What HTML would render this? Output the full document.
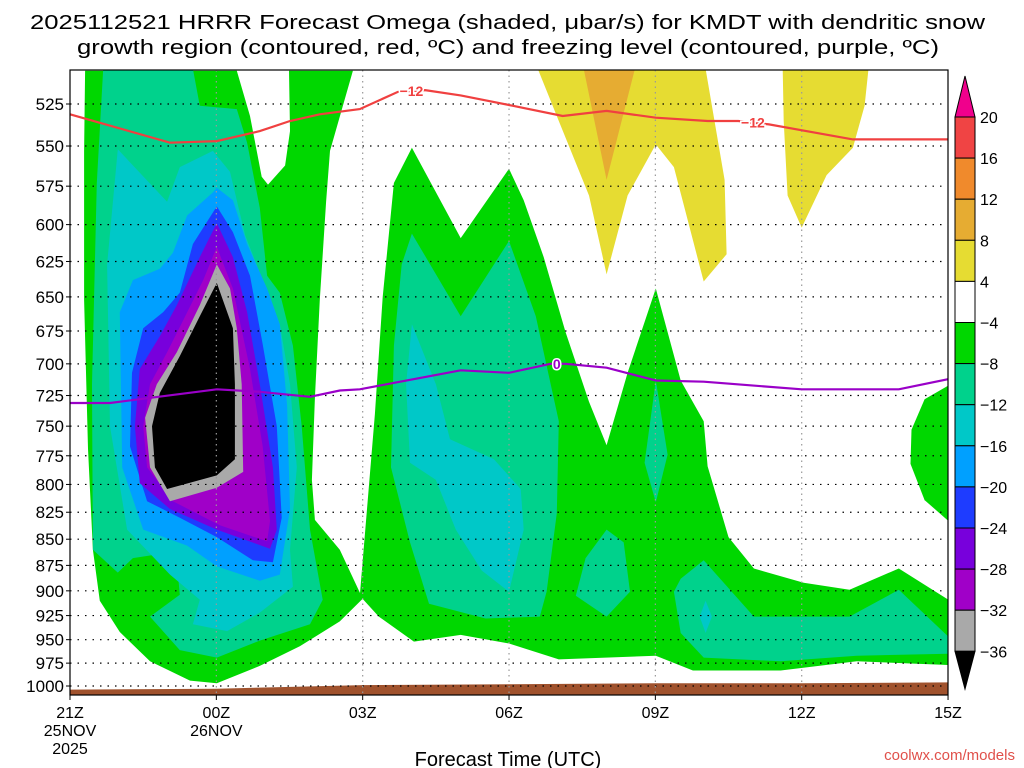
<!DOCTYPE html>
<html><head><meta charset="utf-8">
<style>
html,body{margin:0;padding:0;background:#fff;}
svg{display:block;font-family:"Liberation Sans",sans-serif;}
</style></head>
<body>
<svg id="chart" width="1024" height="768" viewBox="0 0 1024 768" xmlns="http://www.w3.org/2000/svg">
<text x="30" y="29" font-size="20" textLength="955" lengthAdjust="spacingAndGlyphs">2025112521 HRRR Forecast Omega (shaded, μbar/s) for KMDT with dendritic snow</text>
<text x="77" y="54" font-size="20" textLength="862" lengthAdjust="spacingAndGlyphs">growth region (contoured, red, ºC) and freezing level (contoured, purple, ºC)</text>
<g id="fills"></g>
<g id="grid"></g>
<g id="lines"></g>
<rect x="70" y="70" width="878" height="625" fill="none" stroke="#000" stroke-width="1.2"/>
<g id="yaxis"></g>
<g id="xaxis"></g>
<g id="cbar"></g>
<text x="508" y="766" font-size="20" text-anchor="middle">Forecast Time (UTC)</text>
<text x="1015" y="760" font-size="15" text-anchor="end" fill="#e0504a">coolwx.com/models</text>
</svg>
<script>
// axis data
const pressureTicks = [525,550,575,600,625,650,675,700,725,750,775,800,825,850,875,900,925,950,975,1000];
const hourTicks = [0,3,6,9,12,15,18];
const hourLabels = ["21Z","00Z","03Z","06Z","09Z","12Z","15Z"];
const dateLabels = ["25NOV","26NOV","","","","",""];
// colorbar
const cbLevels = ["20","16","12","8","4","−4","−8","−12","−16","−20","−24","−28","−32","−36"];
const cbColors = ["#f04444","#f08a2c","#e6ac32","#e6dc32","#ffffff","#00d700","#00d28c","#00c8c8","#00a0ff","#1e3cff","#7800dc","#a000c8","#a9a9a9"];
// filled contour regions [hour, pressure]
const shadeGreenLeft = [[0.31,506],[3.42,506],[3.69,532],[3.93,569],[4.06,574],[4.41,562],[4.51,541],[4.49,506],[5.80,506],[5.33,553],[5.25,585],[5.12,652],[5.02,727],[4.96,796],[5.02,832],[5.53,860],[6.00,908],[5.53,931],[4.71,957],[3.89,978],[3.01,997],[2.46,994],[1.64,973],[1.02,942],[0.61,910],[0.47,860],[0.37,769],[0.29,652],[0.29,553]];
const shadeGreenMid = [[5.94,905],[6.25,740],[6.41,650],[6.64,573],[7.01,551],[8.01,609],[9.00,564],[9.30,584],[9.71,622],[10.16,676],[10.64,730],[11.00,766],[11.43,707],[12.01,644],[12.52,713],[12.99,746],[13.07,784],[13.50,848],[14.02,878],[15.04,892],[15.98,899],[16.99,878],[18.01,909],[18.01,977],[16.13,973],[14.57,983],[12.77,983],[12.01,967],[10.02,971],[9.00,954],[8.01,945],[7.05,952],[6.33,926]];
const shadeGreenRight = [[18.01,717],[17.52,728],[17.25,753],[17.23,782],[17.52,814],[18.01,833]];
const shadeTealLeft = [[0.68,505],[2.52,505],[2.66,526],[3.42,528],[3.63,548],[3.89,589],[4.04,635],[4.30,647],[4.57,686],[4.75,750],[4.92,841],[5.18,909],[4.92,934],[3.89,951],[3.01,969],[2.25,961],[1.64,926],[2.25,904],[2.19,872],[1.84,864],[1.29,868],[0.98,882],[0.47,860],[0.45,716],[0.55,573]];
const shadeTealMid = [[7.01,606],[8.01,664],[9.00,611],[9.55,664],[10.02,746],[9.98,826],[9.77,901],[9.63,926],[8.52,928],[7.36,913],[6.97,853],[6.58,785],[6.64,686],[6.80,627]];
const shadeTealSmall = [[11.00,841],[11.35,853],[11.48,901],[11.00,926],[10.37,905],[10.57,868]];
const shadeTealSliver = [[12.01,713],[12.25,774],[12.01,816],[11.78,781]];
const shadeTealRight = [[12.99,870],[14.02,926],[15.98,926],[16.99,899],[18.01,947],[18.01,965],[16.13,967],[14.57,973],[12.99,969],[12.52,943],[12.38,901],[12.52,888]];
const shadeCyanLeft = [[0.98,552],[1.99,585],[2.25,563],[2.93,553],[3.28,566],[3.59,607],[3.89,633],[4.30,670],[4.51,716],[4.65,785],[4.51,860],[4.57,896],[3.89,922],[3.22,941],[2.52,934],[2.66,909],[2.05,884],[1.17,841],[0.82,750],[0.76,627]];
const shadeCyanMid = [[7.01,670],[7.50,716],[7.79,761],[8.69,778],[9.24,804],[9.30,841],[9.00,901],[8.44,880],[7.91,841],[7.50,796],[6.97,781],[6.89,716]];
const shadeCyanTiny = [[13.03,910],[13.16,926],[13.03,943],[12.91,926]];
const shadeLightBlue = [[3.01,576],[3.34,584],[3.63,613],[4.04,644],[4.30,670],[4.45,733],[4.51,822],[4.30,884],[3.89,890],[3.01,876],[2.40,856],[1.50,841],[1.07,785],[1.02,661],[1.29,638],[1.84,630],[2.11,619],[2.40,594],[2.93,579]];
const shadeBlue = [[3.01,588],[3.34,605],[3.69,635],[3.95,685],[4.24,750],[4.34,830],[4.16,872],[3.75,870],[3.01,848],[2.25,830],[1.58,815],[1.23,767],[1.27,707],[1.50,673],[1.91,661],[2.25,647],[2.52,613]];
const shadeViolet = [[3.01,599],[3.34,622],[3.63,661],[3.89,716],[4.16,785],[4.24,841],[4.10,859],[3.01,841],[2.05,822],[1.43,799],[1.33,750],[1.43,704],[1.84,679],[2.19,656],[2.66,622]];
const shadePurple = [[3.01,615],[3.34,644],[3.69,704],[3.95,767],[4.10,833],[4.04,852],[3.07,837],[2.11,815],[1.58,785],[1.50,750],[1.64,716],[1.99,691],[2.32,667],[2.73,638]];
const shadeGray = [[3.01,627],[3.28,644],[3.42,673],[3.52,716],[3.55,789],[3.01,803],[2.05,815],[1.64,785],[1.54,743],[1.78,716],[2.19,691],[2.66,656]];
const shadeBlack = [[3.01,640],[3.34,673],[3.38,716],[3.38,778],[3.01,792],[1.99,804],[1.74,785],[1.68,750],[1.84,723],[2.25,694],[2.66,664]];
const shadeYellowA = [[9.59,505],[13.03,505],[13.42,571],[13.46,620],[12.99,639],[12.38,563],[12.01,549],[11.43,581],[11.00,634],[10.64,581],[10.02,535]];
const shadeOrange = [[10.53,505],[11.58,505],[11.00,571]];
const shadeYellowB = [[14.61,505],[16.37,505],[16.29,526],[16.05,551],[15.51,568],[15.00,602],[14.71,581],[14.63,535]];
const groundHours = [0,3,6,9,12,15,18];
const groundPressure = [1004,1003,999,998,997,997,996];
// contour lines
const redHours = [0,2.05,3.01,3.89,4.51,5.12,5.94,6.72,7.28,8.01,9.07,10.1,11.0,12.01,13.07,13.7,14.33,16.05,18.0];
const redPressure = [531,548,547,541,535,531,528,518,517,520,526,532,529,533,535,535,537,546,546];
const purpleHours = [0,0.82,3.01,3.89,4.92,5.53,5.94,8.01,9.0,9.85,10.16,11.0,12.01,12.99,15.0,16.99,18.0];
const purplePressure = [731,731,720,722,726,721,720,705,707,700,700,703,713,714,720,720,712];
const redLabelHours = [7.0,14.0];
const purpleLabelHours = [9.98];

const NS="http://www.w3.org/2000/svg";
const X = h => 70 + h*48.78;
const Y = p => 104 + Math.log(p/525)/Math.log(1000/525)*582;
function mk(tag, parent){const e=document.createElementNS(NS,tag);parent.appendChild(e);return e;}
const fills=document.getElementById('fills');
function poly(arr,color,name){
  const e=mk('polygon',fills);
  
  
  e.setAttribute('points',arr.map(d=>X(d[0]).toFixed(1)+','+Y(d[1]).toFixed(1)).join(' '));
  e.setAttribute('fill',color);
}
const clip=mk('clipPath',document.getElementById('chart'));clip.id='pc';
const cr=mk('rect',clip);cr.setAttribute('x',70);cr.setAttribute('y',70);cr.setAttribute('width',878);cr.setAttribute('height',625);
fills.setAttribute('clip-path','url(#pc)');
poly(shadeGreenLeft,"#00d700","shade-green-left");
poly(shadeGreenMid,"#00d700","shade-green-middle");
poly(shadeGreenRight,"#00d700","shade-green-right");
poly(shadeTealLeft,"#00d28c","shade-teal-left");
poly(shadeTealMid,"#00d28c","shade-teal-middle");
poly(shadeTealSmall,"#00d28c","shade-teal-small");
poly(shadeTealSliver,"#00d28c","shade-teal-sliver");
poly(shadeTealRight,"#00d28c","shade-teal-right");
poly(shadeCyanLeft,"#00c8c8","shade-cyan-left");
poly(shadeCyanMid,"#00c8c8","shade-cyan-middle");
poly(shadeCyanTiny,"#00c8c8","shade-cyan-tiny");
poly(shadeLightBlue,"#00a0ff","shade-lightblue");
poly(shadeBlue,"#1e3cff","shade-blue");
poly(shadeViolet,"#7800dc","shade-violet");
poly(shadePurple,"#a000c8","shade-purple");
poly(shadeGray,"#a9a9a9","shade-gray");
poly(shadeBlack,"#000000","shade-black");
poly(shadeYellowA,"#e6dc32","shade-yellow-a");
poly(shadeOrange,"#e6ac32","shade-orange");
poly(shadeYellowB,"#e6dc32","shade-yellow-b");
// ground
{
  const pts=groundHours.map((h,i)=>X(h)+','+Y(groundPressure[i]));
  pts.push(X(18)+',695',X(0)+',695');
  const g=mk('polygon',fills);
  
  
  g.setAttribute('points',pts.join(' '));g.setAttribute('fill','#a0522d');
}
// grid
const grid=document.getElementById('grid');
pressureTicks.forEach(p=>{
  const l=mk('line',grid);
  
  
  l.setAttribute('x1',70);l.setAttribute('x2',948);l.setAttribute('y1',Y(p));l.setAttribute('y2',Y(p));
  l.setAttribute('stroke','#000');l.setAttribute('stroke-dasharray','1.5 6');l.setAttribute('stroke-width','1.2');
});
hourTicks.slice(1,-1).forEach(h=>{
  const l=mk('line',grid);
  
  
  l.setAttribute('x1',X(h));l.setAttribute('x2',X(h));l.setAttribute('y1',70);l.setAttribute('y2',695);
  l.setAttribute('stroke','#999');l.setAttribute('stroke-dasharray','1.5 4');l.setAttribute('stroke-width','1.2');
});
// contour lines
const lines=document.getElementById('lines');
function cline(hs,ps,color,name,labelHs,labelTxt){
  const e=mk('polyline',lines);
  
  
  e.setAttribute('points',hs.map((h,i)=>X(h).toFixed(1)+','+Y(ps[i]).toFixed(1)).join(' '));
  e.setAttribute('fill','none');e.setAttribute('stroke',color);e.setAttribute('stroke-width','2.2');
  labelHs.forEach(lh=>{
    let k=0;while(k<hs.length-2&&hs[k+1]<lh)k++;
    const t=(lh-hs[k])/(hs[k+1]-hs[k]);
    const p=ps[k]+t*(ps[k+1]-ps[k]);
    const bg=mk('rect',lines);
    
    
    const w=labelTxt.length>1?30:12;
    bg.setAttribute('x',X(lh)-w/2);bg.setAttribute('y',Y(p)-7);bg.setAttribute('width',w);bg.setAttribute('height',14);bg.setAttribute('fill','#fff');bg.setAttribute('opacity','0');
    const tx=mk('text',lines);
    
    
    tx.setAttribute('x',X(lh));tx.setAttribute('y',Y(p)+5);tx.setAttribute('text-anchor','middle');
    tx.setAttribute('font-size','14');tx.setAttribute('font-weight','bold');tx.setAttribute('fill',color);
    tx.setAttribute('stroke','#fff');tx.setAttribute('stroke-width','3');tx.setAttribute('paint-order','stroke');
    tx.textContent=labelTxt;
  });
}
cline(redHours,redPressure,"#f04040","dgz-minus12-contour",redLabelHours,"−12");
cline(purpleHours,purplePressure,"#9a00c8","freezing-level-contour",purpleLabelHours,"0");
// y axis
const ya=document.getElementById('yaxis');
pressureTicks.forEach(p=>{
  const t=mk('text',ya);
  
  
  t.setAttribute('x',64);t.setAttribute('y',Y(p)+6);t.setAttribute('text-anchor','end');t.setAttribute('font-size','17');
  t.textContent=p;
  const tk=mk('line',ya);
  
  
  tk.setAttribute('x1',70);tk.setAttribute('x2',66);tk.setAttribute('y1',Y(p));tk.setAttribute('y2',Y(p));tk.setAttribute('stroke','#000');
});
// x axis
const xa=document.getElementById('xaxis');
hourTicks.forEach((h,i)=>{
  const tk=mk('line',xa);
  
  
  tk.setAttribute('x1',X(h));tk.setAttribute('x2',X(h));tk.setAttribute('y1',695);tk.setAttribute('y2',700);tk.setAttribute('stroke','#000');
  const t=mk('text',xa);
  
  
  t.setAttribute('x',X(h));t.setAttribute('y',718);t.setAttribute('text-anchor','middle');t.setAttribute('font-size','16');
  t.textContent=hourLabels[i];
  if(dateLabels[i]){
    const d=mk('text',xa);
    
    
    d.setAttribute('x',X(h));d.setAttribute('y',736);d.setAttribute('text-anchor','middle');d.setAttribute('font-size','16');
    d.textContent=dateLabels[i];
  }
});
{
  const y=mk('text',xa);
  
  
  y.setAttribute('x',X(0));y.setAttribute('y',754);y.setAttribute('text-anchor','middle');y.setAttribute('font-size','16');
  y.textContent='2025';
}
// colorbar
const cb=document.getElementById('cbar');
const cbTop=117, cbStep=41.1;
{
  const tri=mk('polygon',cb);
  
  
  tri.setAttribute('points','955,'+cbTop+' 975,'+cbTop+' 965,76');tri.setAttribute('fill','#f0008c');tri.setAttribute('stroke','#000');
}
cbColors.forEach((c,i)=>{
  const r=mk('rect',cb);
  
  
  r.setAttribute('x',955);r.setAttribute('y',cbTop+i*cbStep);r.setAttribute('width',20);r.setAttribute('height',cbStep);
  r.setAttribute('fill',c);r.setAttribute('stroke','#000');r.setAttribute('stroke-width','1');
});
{
  const yb=cbTop+cbColors.length*cbStep;
  const tri=mk('polygon',cb);
  
  
  tri.setAttribute('points','955,'+yb+' 975,'+yb+' 965,689');tri.setAttribute('fill','#000');tri.setAttribute('stroke','#000');
}
cbLevels.forEach((l,i)=>{
  const t=mk('text',cb);
  
  
  t.setAttribute('x',980);t.setAttribute('y',cbTop+i*cbStep+6);t.setAttribute('font-size','16');
  t.textContent=l;
});
</script>
</body></html>
